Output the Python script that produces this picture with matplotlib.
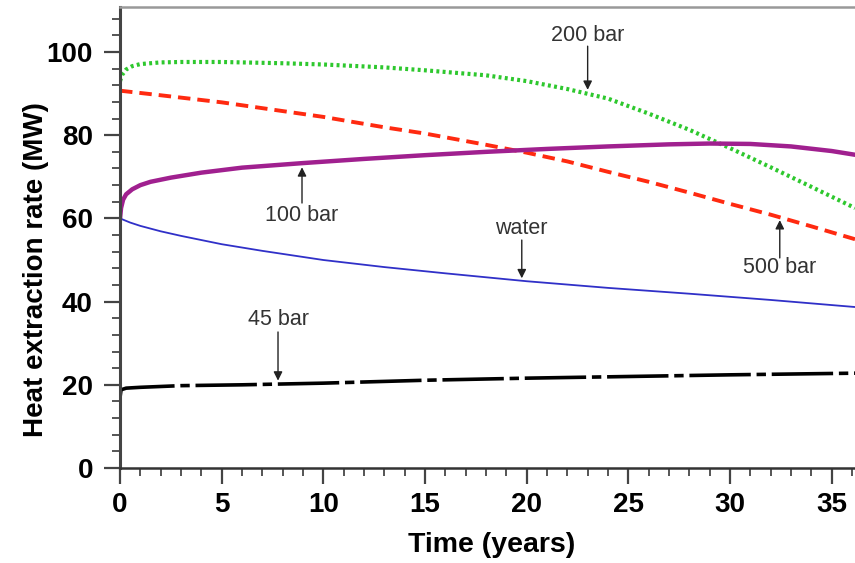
import numpy as np
import matplotlib.pyplot as plt
from matplotlib.ticker import MultipleLocator

t_200 = [0, 0.1, 0.3, 0.6, 1, 2, 3, 5, 8, 10, 13, 15, 18, 20, 22, 24, 26, 28, 30, 32, 34, 36.15]
v_200 = [93, 94.5, 95.8, 96.6, 97.1, 97.5, 97.6, 97.6, 97.3, 97.0, 96.3, 95.6, 94.4, 93.0, 91.1, 88.8,
         85.2, 81.3, 76.9, 72.3, 67.6, 62.5]

t_500 = [0, 2, 5, 8, 10, 13, 15, 18, 20, 22, 24, 26, 28, 30, 32, 34, 36.15]
v_500 = [90.7, 89.6, 87.9, 85.8, 84.4, 81.9, 80.4, 77.7, 75.8, 73.7, 71.2, 68.8, 66.2, 63.5, 60.9, 58.1, 55.0]

t_100 = [0, 0.05, 0.15, 0.3, 0.6, 1, 1.5, 2.5, 4, 6, 9, 12, 15, 18, 21, 24, 27, 29, 31, 33, 35, 36.15]
v_100 = [60, 62.5, 64.5, 65.8, 67, 68, 68.8, 69.8, 71, 72.2, 73.3, 74.3, 75.2, 76, 76.7, 77.3, 77.8,
         78, 77.9, 77.3, 76.2, 75.3]

t_water = [0, 0.5, 1, 2, 3, 5, 7, 10, 13, 16, 20, 24, 28, 32, 36.15]
v_water = [60, 59, 58.2, 56.9, 55.8, 53.8, 52.2, 50, 48.3, 46.8, 44.9, 43.3, 41.9, 40.4, 38.7]

t_45 = [0, 0.05, 0.3, 1, 3, 6, 10, 15, 20, 25, 30, 36.15]
v_45 = [17, 18.8, 19.2, 19.4, 19.8, 20.0, 20.4, 21.1, 21.6, 22.0, 22.4, 22.8]

# label, text position, arrow start, arrow tip
notes = [
    ("200 bar", (23.0, 103.9), (23.0, 101.4), (23.0, 90.9)),
    ("100 bar", (8.95, 60.8), (8.95, 63.7), (8.95, 72.3)),
    ("water", (19.76, 57.5), (19.76, 54.8), (19.76, 45.6)),
    ("500 bar", (32.45, 48.1), (32.45, 50.5), (32.45, 59.6)),
    ("45 bar", (7.77, 35.6), (7.77, 32.7), (7.77, 21.0)),
]

plt.rcParams['font.family'] = ['Liberation Sans', 'DejaVu Sans']

fig = plt.figure(figsize=(8.55, 5.63), dpi=100)
ax = fig.add_axes([0.1404, 0.1687, 0.8596, 0.818])

ax.plot(t_200, v_200, color='#2ec82e', lw=3.0, ls=(0, (0.7, 0.8)))
ax.plot(t_500, v_500, color='#ff2a10', lw=2.8, ls=(0, (3.2, 1.8)))
ax.plot(t_100, v_100, color='#a0208f', lw=3.2, solid_capstyle='round')
ax.plot(t_water, v_water, color='#3030c8', lw=1.3)
ax.plot(t_45, v_45, color='black', lw=2.6, ls=(0, (17, 1.6, 2.6, 1.6)))

for label, txt, start, tip in notes:
    ax.text(txt[0], txt[1], label, ha='center', va='center', fontsize=15.5, color='#333333')
    ax.annotate("", xy=tip, xytext=start,
                arrowprops=dict(arrowstyle='-|>', color='#222222', lw=1.0,
                                mutation_scale=13, shrinkA=0, shrinkB=0))

ax.set_xlim(0, 36.15)
ax.set_ylim(0, 110.7)
ax.xaxis.set_major_locator(MultipleLocator(5))
ax.xaxis.set_minor_locator(MultipleLocator(1))
ax.yaxis.set_major_locator(MultipleLocator(20))
ax.yaxis.set_minor_locator(MultipleLocator(4))

ax.spines['right'].set_visible(False)
ax.spines['top'].set_color('#999999')
ax.spines['top'].set_linewidth(1.8)
ax.spines['left'].set_color('#444444')
ax.spines['left'].set_linewidth(2.2)
ax.spines['bottom'].set_color('#333333')
ax.spines['bottom'].set_linewidth(1.8)

ax.tick_params(which='major', direction='out', length=11.5, width=1.6, color='#444444',
               labelsize=20, pad=6)
ax.tick_params(axis='y', which='major', pad=8)
ax.tick_params(which='minor', direction='out', length=5.5, width=1.4, color='#555555')
ax.tick_params(top=False, right=False, which='both')
for lab in ax.get_xticklabels() + ax.get_yticklabels():
    lab.set_fontweight('bold')

ax.set_xlabel("Time (years)", fontsize=20.5, fontweight='bold')
ax.set_ylabel("Heat extraction rate (MW)", fontsize=20, fontweight='bold')
ax.xaxis.set_label_coords(0.506, -0.14)
ax.yaxis.set_label_coords(-0.097, 0.43)

fig.savefig("out.png", dpi=100)
